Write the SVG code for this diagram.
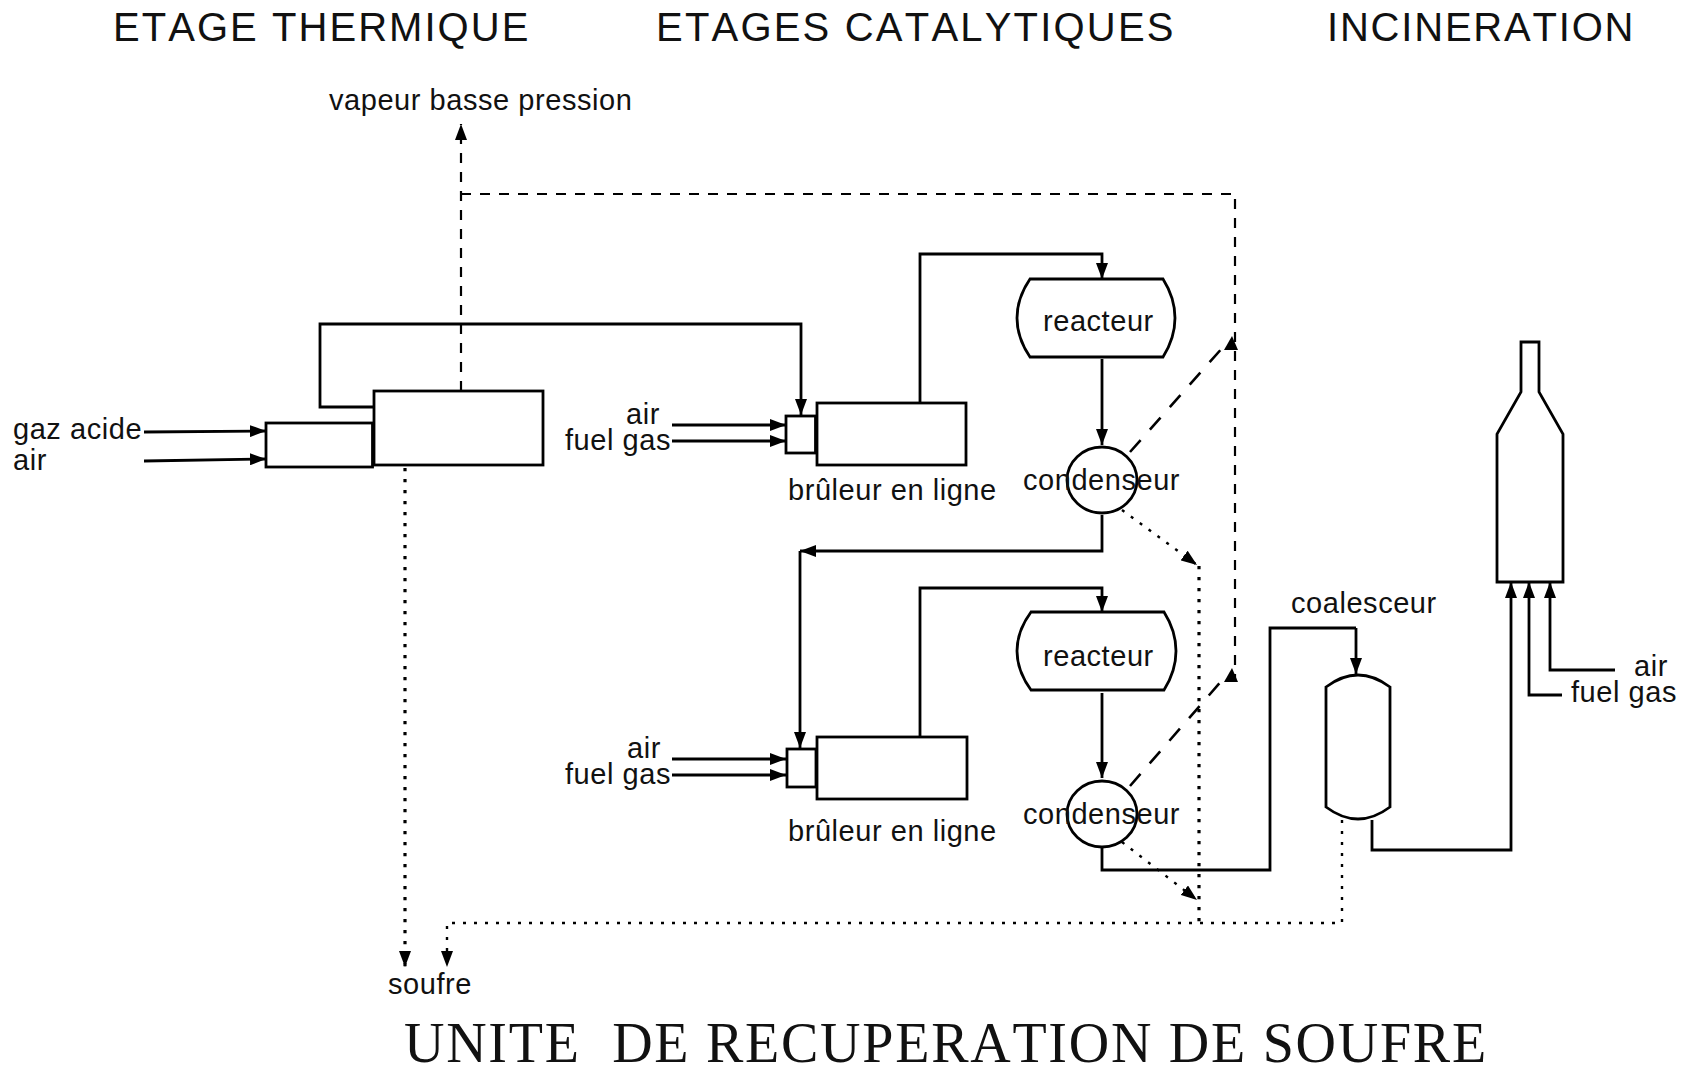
<svg xmlns="http://www.w3.org/2000/svg" width="1686" height="1072" viewBox="0 0 1686 1072">
<style>
text{font-family:"Liberation Sans",Arial,sans-serif;font-size:29px;fill:#111;letter-spacing:.55px;font-kerning:none;white-space:pre}
.h{font-size:40px;letter-spacing:2.05px}
.t{font-family:"Liberation Serif","Times New Roman",serif;font-size:56px;letter-spacing:1.74px}
.s,.n{fill:none;stroke:#000;stroke-width:2.8}
.n{fill:#fff}
.d{stroke-dasharray:10 9;stroke-width:2.2}
.l{stroke-dasharray:16 14;stroke-width:2.6}
.p{stroke:#000;fill:none;stroke-width:3.2;stroke-dasharray:3.2 7.8}
.q{stroke-width:2.4;stroke-dasharray:3 8}
.a{fill:#000;stroke:none}
</style>
<defs>
<marker id="m" viewBox="0 0 16 12" refX="16" refY="6" markerWidth="16" markerHeight="12" markerUnits="userSpaceOnUse" orient="auto"><path class="a" d="M0 0L16 6L0 12z"/></marker>
</defs>
<rect width="1686" height="1072" fill="#fff"/>
<g id="connectors">
<path class="s" marker-end="url(#m)" d="M144 432L266 431"/>
<path class="s" marker-end="url(#m)" d="M144 461L266 459"/>
<path class="s" marker-end="url(#m)" d="M373 407H320V324H801V415"/>
<path class="s" marker-end="url(#m)" d="M672 425H786"/>
<path class="s" marker-end="url(#m)" d="M672 441H786"/>
<path class="s" marker-end="url(#m)" d="M920 403V254H1102V279"/>
<path class="s" marker-end="url(#m)" d="M1102 359V445"/>
<path class="s" marker-end="url(#m)" d="M1102 515V551H800"/>
<path class="s" marker-end="url(#m)" d="M800 551V748"/>
<path class="s" marker-end="url(#m)" d="M672 759H786"/>
<path class="s" marker-end="url(#m)" d="M672 775H786"/>
<path class="s" marker-end="url(#m)" d="M920 737V588H1102V612"/>
<path class="s" marker-end="url(#m)" d="M1102 693V778"/>
<path class="s" d="M1102 847V870H1270V628H1356"/>
<path class="s" marker-end="url(#m)" d="M1356 628V674"/>
<path class="s" marker-end="url(#m)" d="M1372 820V850H1511V582"/>
<path class="s" marker-end="url(#m)" d="M1562 695H1529V582"/>
<path class="s" marker-end="url(#m)" d="M1615 670H1550V582"/>
<path class="s d" marker-end="url(#m)" d="M461 391V124"/>
<path class="s d" d="M461 194H1235V680"/>
<path class="s l" d="M1130 452L1224 346"/>
<path class="s l" d="M1130 786L1224 678"/>
<path class="a" d="M1232 336L1238 350H1224Z"/>
<path class="a" d="M1232 668L1238 682H1224Z"/>
<path class="p" marker-end="url(#m)" d="M405 468V967"/>
<path class="p" d="M1199 566V923"/>
<path class="p q" marker-end="url(#m)" d="M1122 510L1197 565"/>
<path class="p q" marker-end="url(#m)" d="M1122 842L1197 900"/>
<path class="p q" marker-end="url(#m)" d="M1342 820V923H447V967"/>
</g>
<g id="box-thermal-burner"><rect class="n" x="266" y="423" width="106.500" height="44"/></g>
<g id="box-thermal"><rect class="n" x="374" y="391" width="169" height="74"/></g>
<g id="burner-1"><rect class="n" x="786" y="416" width="29.500" height="37"/><rect class="n" x="817" y="403" width="149" height="62"/></g>
<g id="burner-2"><rect class="n" x="787" y="749" width="29" height="38"/><rect class="n" x="817" y="737" width="150" height="62"/></g>
<g id="reactor-1"><path class="n" d="M1030 279H1163Q1175 298 1175 318Q1175 338 1163 357H1030Q1017 338 1017 318Q1017 298 1030 279Z"/></g>
<g id="reactor-2"><path class="n" d="M1031 612H1164Q1176 631 1176 651Q1176 671 1164 690H1031Q1017 671 1017 651Q1017 631 1031 612Z"/></g>
<g id="condenser-1"><ellipse class="s" cx="1102" cy="480" rx="35" ry="33"/></g>
<g id="condenser-2"><ellipse class="s" cx="1102" cy="814" rx="35" ry="33"/></g>
<g id="coalescer"><path class="n" d="M1326 687Q1358 663 1390 687V807Q1358 831 1326 807Z"/></g>
<g id="stack"><path class="n" d="M1521 342H1539V392L1563 434V582H1497V434L1521 392Z"/></g>
<g id="labels">
<text class="h" x="113" y="41">ETAGE THERMIQUE</text>
<text class="h" x="656" y="41" style="letter-spacing:2.2px">ETAGES CATALYTIQUES</text>
<text class="h" x="1327" y="41" style="letter-spacing:1.8px">INCINERATION</text>
<text x="329" y="109.500">vapeur basse pression</text>
<text x="13" y="438.500">gaz acide</text>
<text x="13" y="469.500">air</text>
<text x="626" y="424">air</text>
<text x="565" y="450">fuel gas</text>
<text x="788" y="500">brûleur en ligne</text>
<text x="1043" y="330.500">reacteur</text>
<text x="1023" y="489.500">condenseur</text>
<text x="1043" y="665.500">reacteur</text>
<text x="627" y="758">air</text>
<text x="565" y="784">fuel gas</text>
<text x="788" y="841">brûleur en ligne</text>
<text x="1023" y="823.500">condenseur</text>
<text x="1291" y="612.500">coalesceur</text>
<text x="1634" y="675.500">air</text>
<text x="1571" y="701.500">fuel gas</text>
<text x="388" y="993.500">soufre</text>
<text class="t" x="404" y="1062">UNITE  DE RECUPERATION DE SOUFRE</text>
</g>
</svg>
